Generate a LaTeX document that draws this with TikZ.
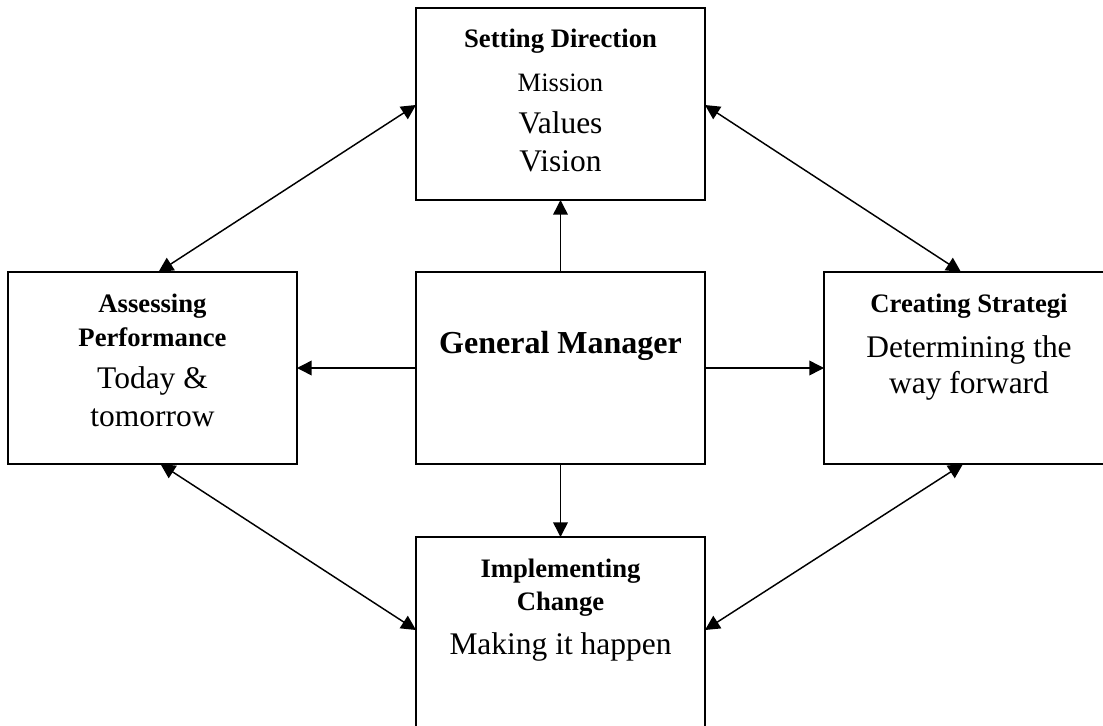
\documentclass[tikz,border=0pt]{standalone}
\usepackage{fontspec}
\setmainfont{Liberation Serif}
\usetikzlibrary{arrows.meta,calc}
\begin{document}
\begin{tikzpicture}[x=0.75pt,y=-0.75pt,
  box/.style={draw, line width=1.3pt, inner sep=0pt, outer sep=0pt, minimum width=216.75pt, minimum height=144pt},
  hd/.style={font=\fontsize{20}{24}\selectfont\bfseries, anchor=base, inner sep=0pt},
  bg/.style={font=\fontsize{23.6}{28}\selectfont, anchor=base, inner sep=0pt},
  sm/.style={font=\fontsize{19.9}{24}\selectfont, anchor=base, inner sep=0pt},
  gmt/.style={font=\fontsize{24}{28}\selectfont\bfseries, anchor=base, inner sep=0pt},
  arr/.style={-{Triangle[length=11pt,width=11pt]}, line width=1.1pt},
  dbl/.style={{Triangle[length=11pt,width=11pt]}-{Triangle[length=11pt,width=11pt]}, line width=1.1pt}]
\useasboundingbox (0,0) rectangle (1103,725);
\clip (0,0) rectangle (1103,725);
% boxes
\node[box] (top) at (560.5,104) {};
\node[box] (gm) at (560.5,368) {};
\node[box] (left) at (152.5,368) {};
\node[box, minimum width=217.5pt] (right) at (969,368) {};
\node[box, minimum height=174.75pt] (bot) at (560.5,653.5) {};
% texts
\node[hd] (t1) at (560.5,47) {Setting Direction};
\node[sm] (t2) at (560.5,91) {Mission};
\node[bg] (t3) at (560.5,133) {Values};
\node[bg] (t4) at (560.5,171) {Vision};
\node[hd] (l1) at (152.5,312) {Assessing};
\node[hd] (l2) at (152.5,346) {Performance};
\node[bg] (l3) at (152.5,388) {Today \&};
\node[bg] (l4) at (152.5,426) {tomorrow};
\node[hd] (r1) at (969,312) {Creating Strategi};
\node[bg] (r2) at (969,357) {Determining the};
\node[bg] (r3) at (969,393) {way forward};
\node[gmt] (g1) at (560.5,353) {General Manager};
\node[hd] (b1) at (560.5,577) {Implementing};
\node[hd] (b2) at (560.5,610) {Change};
\node[bg] (b3) at (560.5,654) {Making it happen};
% connectors
\draw[arr] (gm.north) -- (top.south);
\draw[arr] (gm.west) -- (left.east);
\draw[arr] (gm.east) -- (right.east -| right.west);
\draw[arr] (gm.south) -- (bot.north);
\draw[dbl] ($(top.west)+(0,1)$) -- ($(left.north)+(6,0)$);
\draw[dbl] ($(top.east)+(0,1)$) -- ($(right.north)+(-8,0)$);
\draw[dbl] ($(left.south)+(8,0)$) -- ($(bot.north west)+(0,93)$);
\draw[dbl] ($(right.south)+(-6,0)$) -- ($(bot.north east)+(0,93)$);
\end{tikzpicture}
\end{document}
